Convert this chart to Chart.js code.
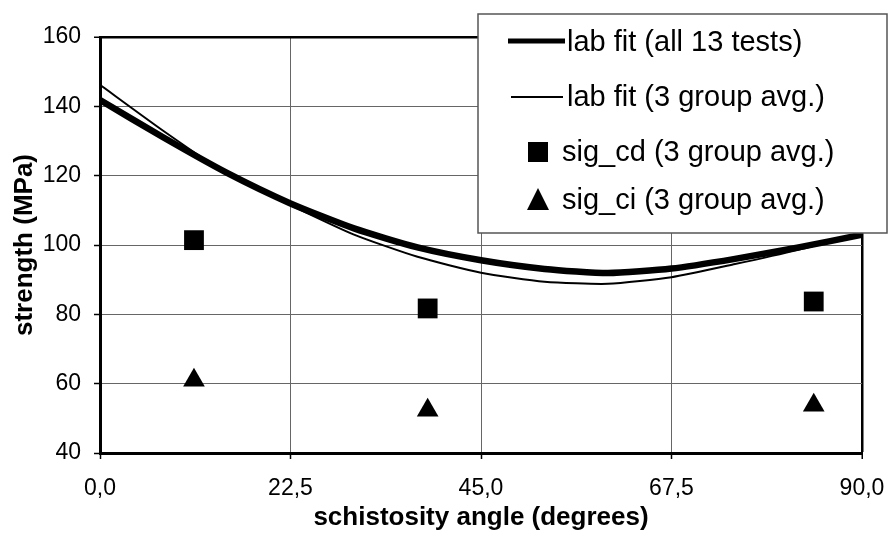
<!DOCTYPE html>
<html>
<head>
<meta charset="utf-8">
<script src="https://cdn.jsdelivr.net/npm/chart.js@4"></script>
<style>
  body { margin: 0; background: #fff; }
  canvas { display: block; }
</style>
</head>
<body>
<canvas id="strength-Chart" width="890" height="533"></canvas>
<script>
    // schistosity angle (degrees) for the fitted curves
    var fitAngles = [0, 7.5, 15, 22.5, 30, 37.5, 45, 52.5, 60, 67.5, 75, 82.5, 90];
    var fitAll = [141.8, 131, 120.8, 112, 104.8, 99.3, 95.6, 93.1, 91.9, 93.2, 96, 99.3, 103];
    var fitGroup = [146.2, 132.9, 120.5, 111.5, 103, 96.6, 92, 89.4, 88.8, 90.7, 94.5, 98.6, 103.3];

    // 3 group averages
    var groupAngles = [11.1, 38.7, 84.3];
    var sigCd = [101.4, 81.7, 83.7];
    var sigCi = [61.0, 52.3, 53.8];

    var xTicks = [0, 22.5, 45, 67.5, 90];
    var yTicks = [40, 60, 80, 100, 120, 140, 160];

    function pts(xs, ys) {
        return xs.map(function (x, i) { return { x: x, y: ys[i] }; });
    }

    Chart.defaults.font.family = "'Liberation Sans', Arial, sans-serif";
    Chart.defaults.color = '#000';

    // legend drawn as a box over the top right of the plot
    var legendBox = {
        id: 'legendBox',
        afterDraw: function (chart) {
            var c = chart.ctx;
            var ds = chart.data.datasets;
            c.save();
            c.fillStyle = '#fff';
            c.strokeStyle = '#555';
            c.lineWidth = 1.5;
            c.fillRect(478, 14, 409, 219);
            c.strokeRect(478, 14, 409, 219);

            c.fillStyle = '#000';
            c.strokeStyle = '#000';
            c.font = "29px 'Liberation Sans', Arial, sans-serif";
            c.textBaseline = 'middle';
            c.textAlign = 'left';

            // thick line
            c.lineWidth = 5;
            c.beginPath(); c.moveTo(508, 41); c.lineTo(565, 41); c.stroke();
            c.fillText(ds[0].label, 567, 43);
            // thin line
            c.lineWidth = 2;
            c.beginPath(); c.moveTo(511, 97); c.lineTo(563, 97); c.stroke();
            c.fillText(ds[1].label, 567, 98);
            // square
            c.fillRect(528, 142, 20, 20);
            c.fillText(ds[2].label, 562, 153);
            // triangle
            c.beginPath(); c.moveTo(538, 188); c.lineTo(549, 210); c.lineTo(527, 210); c.closePath(); c.fill();
            c.fillText(ds[3].label, 562, 201);
            c.restore();
        }
    };

    var ctx = document.getElementById('strength-Chart').getContext('2d');
    var chart = new Chart(ctx, {
        type: 'scatter',
        data: {
            datasets: [{
                label: 'lab fit (all 13 tests)',
                data: pts(fitAngles, fitAll),
                showLine: true,
                borderColor: '#000',
                borderWidth: 6.5,
                pointRadius: 0,
                tension: 0.2
            }, {
                label: 'lab fit (3 group avg.)',
                data: pts(fitAngles, fitGroup),
                showLine: true,
                borderColor: '#000',
                borderWidth: 2,
                pointRadius: 0,
                tension: 0.2
            }, {
                label: 'sig_cd (3 group avg.)',
                data: pts(groupAngles, sigCd),
                pointStyle: 'rect',
                pointRadius: 14,
                backgroundColor: '#000',
                borderColor: '#000',
                borderWidth: 0
            }, {
                label: 'sig_ci (3 group avg.)',
                data: pts(groupAngles, sigCi),
                pointStyle: 'triangle',
                pointRadius: 12.5,
                backgroundColor: '#000',
                borderColor: '#000',
                borderWidth: 0
            }]
        },
        options: {
            responsive: false,
            animation: false,
            layout: { padding: { top: 37, right: 28, left: 0, bottom: 0 } },
            plugins: {
                legend: { display: false },
                tooltip: { enabled: false }
            },
            scales: {
                x: {
                    type: 'linear',
                    min: 0,
                    max: 90,
                    afterBuildTicks: function (s) { s.ticks = xTicks.map(function (v) { return { value: v }; }); },
                    afterFit: function (s) { s.height = 80; s.paddingLeft = 0; s.paddingRight = 0; },
                    ticks: {
                        font: { size: 23 },
                        padding: 16,
                        callback: function (v) { return v.toFixed(1).replace('.', ','); }
                    },
                    grid: {
                        color: function (c) { return c.tick && c.tick.value === 90 ? '#000' : '#666'; },
                        lineWidth: function (c) { return c.tick && c.tick.value === 90 ? 2.5 : 1; },
                        tickColor: '#000',
                        tickLength: 6,
                        tickWidth: 1.5
                    },
                    border: { color: '#000', width: 3 },
                    title: {
                        display: true,
                        text: 'schistosity angle (degrees)',
                        font: { size: 26, weight: 'bold', lineHeight: 1 },
                        padding: { top: 0, bottom: 2 }
                    }
                },
                y: {
                    min: 40,
                    max: 160,
                    afterBuildTicks: function (s) { s.ticks = yTicks.map(function (v) { return { value: v }; }); },
                    afterFit: function (s) { s.width = 100; s.paddingTop = 0; s.paddingBottom = 0; },
                    ticks: {
                        font: { size: 23 },
                        padding: 13
                    },
                    grid: {
                        color: function (c) { return c.tick && c.tick.value === 160 ? '#000' : '#666'; },
                        lineWidth: function (c) { return c.tick && c.tick.value === 160 ? 2.5 : 1; },
                        tickColor: '#000',
                        tickLength: 6,
                        tickWidth: 1.5
                    },
                    border: { color: '#000', width: 3 },
                    title: {
                        display: true,
                        text: 'strength (MPa)',
                        font: { size: 26, weight: 'bold', lineHeight: 1 },
                        padding: { top: 12, bottom: 0 }
                    }
                }
            }
        },
        plugins: [legendBox]
    });
</script>
</body>
</html>
